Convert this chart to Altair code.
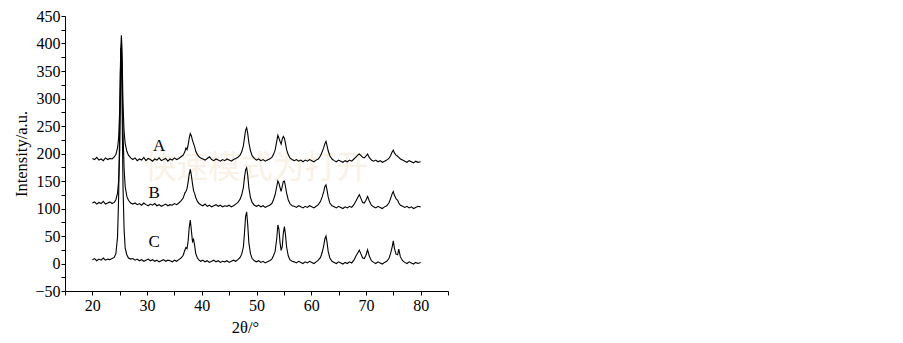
import altair as alt
import pandas as pd

# 2-theta positions (shared by all three patterns)
x_vals = [
    20.0, 20.4, 20.8, 21.2, 21.6, 22.0, 22.4, 22.8, 23.2, 23.6, 24.0,
    24.3, 24.6, 24.8, 25.0, 25.1, 25.2, 25.3, 25.4, 25.5, 25.6, 25.8, 26.0, 26.3, 26.6, 27.0,
    27.4, 27.8, 28.2, 28.6, 29.0, 29.4, 29.8, 30.2, 30.6, 31.0, 31.4, 31.8, 32.2, 32.6, 33.0, 33.4,
    33.8, 34.2, 34.6, 35.0, 35.4, 35.8, 36.2, 36.6,
    36.9, 37.1, 37.3, 37.5, 37.7, 37.9, 38.1, 38.3, 38.5, 38.7, 38.9, 39.2, 39.5,
    39.8, 40.2, 40.6, 41.0, 41.4, 41.8, 42.2, 42.6, 43.0, 43.4, 43.8, 44.2, 44.6, 45.0, 45.4, 45.8,
    46.2, 46.6, 47.0,
    47.3, 47.6, 47.8, 48.0, 48.2, 48.4, 48.6, 48.9, 49.2, 49.6,
    50.0, 50.4, 50.8, 51.2, 51.6, 52.0, 52.4, 52.8,
    53.1, 53.4, 53.7, 53.9, 54.1, 54.3, 54.5, 54.7, 54.9, 55.1, 55.3, 55.5, 55.8, 56.1, 56.5,
    56.9, 57.3, 57.7, 58.1, 58.5, 58.9, 59.3, 59.7, 60.1, 60.5, 60.9, 61.3, 61.7,
    62.0, 62.3, 62.5, 62.7, 62.9, 63.1, 63.4, 63.8,
    64.2, 64.6, 65.0, 65.4, 65.8, 66.2, 66.6, 67.0, 67.4, 67.8,
    68.2, 68.5, 68.8, 69.1, 69.4, 69.7, 70.0, 70.3, 70.6, 71.0,
    71.4, 71.8, 72.2, 72.6, 73.0, 73.4, 73.8, 74.2,
    74.5, 74.8, 75.0, 75.2, 75.5, 75.8, 76.0, 76.3, 76.7,
    77.1, 77.5, 77.9, 78.3, 78.7, 79.1, 79.5, 80.0,
]

a_vals = [
    191, 189, 193, 188, 190, 187, 192, 189, 191, 190, 194,
    198, 210, 228, 280, 330, 390, 415, 395, 345, 290, 240, 218, 204, 197, 192,
    189, 192, 187, 190, 188, 193, 187, 191, 189, 186, 190, 188, 192, 187, 189, 191,
    186, 190, 188, 192, 189, 191, 194, 197,
    203, 210, 207, 215, 228, 236, 232, 224, 218, 212, 204, 198, 194,
    192, 190, 188, 191, 194, 189, 187, 190, 188, 186, 189, 187, 190, 188, 186, 189,
    191, 193, 197,
    203, 214, 228, 242, 247, 236, 220, 205, 196, 191,
    188, 190, 187, 189, 186, 188, 190, 193,
    198, 206, 222, 233, 228, 222, 217, 226, 231, 228, 218, 207, 198, 192, 189,
    187, 189, 186, 188, 185, 188, 186, 189, 187, 185, 188, 190, 196,
    203, 211, 218, 222, 214, 205, 196, 190,
    187, 185, 188, 186, 184, 187, 185, 188, 186, 190,
    194, 197, 199, 196, 193, 192, 195, 199, 193, 188,
    186, 188, 185, 187, 184, 186, 188, 191,
    196, 203, 206, 201, 197, 195, 193, 190, 188,
    186, 184, 187, 185, 183, 186, 184, 185,
]

b_vals = [
    110, 112, 108, 111, 109, 113, 108, 110, 112, 109, 111,
    116, 128, 150, 205, 280, 350, 398, 372, 310, 240, 172, 140, 122, 115, 110,
    108, 110, 107, 109, 106, 110, 107, 105, 108, 106, 109, 105, 107, 104, 106, 108,
    105, 107, 106, 109, 107, 110, 114, 119,
    128, 131, 136, 148, 162, 171, 160, 145, 132, 127, 120, 113, 109,
    107, 105, 108, 104, 106, 103, 105, 107, 104, 106, 103, 105, 104, 106, 103, 105,
    108, 111, 117,
    125, 138, 156, 170, 174, 160, 138, 120, 111, 106,
    104, 106, 103, 105, 102, 104, 106, 109,
    116, 125, 140, 150, 146, 138, 131, 140, 149, 150, 140, 128, 116, 109, 105,
    104, 102, 105, 103, 101, 104, 102, 105, 103, 101, 104, 107, 113,
    121, 131, 140, 143, 133, 121, 110, 105,
    103, 101, 104, 102, 100, 103, 101, 104, 102, 107,
    114, 120, 125, 118, 111, 110, 115, 122, 114, 106,
    103, 101, 104, 102, 100, 103, 105, 110,
    118, 127, 131, 124, 118, 115, 110, 106, 104,
    102, 104, 101, 103, 100, 102, 104, 103,
]

c_vals = [
    7, 9, 5, 8, 6, 10, 6, 8, 7, 9, 11,
    18, 48, 120, 250, 345, 392, 385, 320, 225, 140, 62, 28, 16, 10, 8,
    9, 6, 8, 5, 7, 4, 6, 8, 5, 7, 4, 6, 3, 5, 7, 4,
    6, 5, 3, 6, 4, 7, 10, 15,
    24, 29, 27, 40, 65, 79, 60, 40, 44, 32, 18, 10, 6,
    4, 6, 3, 5, 2, 4, 6, 3, 5, 2, 4, 3, 5, 2, 4, 6,
    4, 7, 11,
    17, 30, 55, 85, 94, 70, 38, 18, 9, 5,
    3, 5, 2, 4, 1, 3, 5, 8,
    14, 22, 45, 70, 62, 38, 24, 30, 55, 67, 52, 30, 14, 7, 4,
    3, 1, 4, 2, 0, 3, 1, 4, 2, 0, 3, 6, 11,
    20, 33, 45, 50, 38, 22, 10, 4,
    2, 0, 3, 1, -1, 2, 0, 3, 1, 6,
    14, 19, 24, 17, 10, 9, 15, 25, 14, 5,
    2, 0, 3, 1, -1, 2, 4, 9,
    18, 30, 41, 28, 17, 16, 26, 12, 5,
    2, 0, 3, 1, -1, 2, 0, 2,
]

series_names = ["A", "B", "C"]
label_x = [32.2, 31.3, 31.3]
label_y = [213, 128, 40]

watermark_text = ["快速模式为打开"]
watermark_x = [50.0]
watermark_y = [174]

for ys in (a_vals, b_vals, c_vals):
    if len(ys) != len(x_vals):
        raise ValueError(f"length mismatch {len(ys)} vs {len(x_vals)}")

rows = []
for name, ys in zip(series_names, (a_vals, b_vals, c_vals)):
    for i, (xv, yv) in enumerate(zip(x_vals, ys)):
        rows.append({"x": xv, "y": yv, "s": name, "i": i})
df = pd.DataFrame(rows)
df_lab = pd.DataFrame({"x": label_x, "y": label_y, "t": series_names})
df_wm = pd.DataFrame({"x": watermark_x, "y": watermark_y, "t": watermark_text})

SERIF = "Liberation Serif"
xscale = alt.Scale(domain=[15, 85], nice=False, zero=False)
yscale = alt.Scale(domain=[-50, 450], nice=False, zero=False)

common_axis = dict(
    grid=False,
    domainColor="black",
    tickColor="black",
    labelColor="black",
    titleColor="black",
    labelFont=SERIF,
    titleFont=SERIF,
    labelFontSize=16,
    titleFontSize=16.5,
    titleFontWeight="normal",
    tickSize=4,
    domainWidth=1,
    tickWidth=1,
)

xaxis = alt.Axis(
    values=list(range(15, 86, 5)),
    labelExpr="datum.value % 10 == 0 ? datum.label : ''",
    title="2θ/°",
    titleX=180,
    titleY=41,
    titleAlign="center",
    titleBaseline="alphabetic",
    labelPadding=2,
    **common_axis,
)
yaxis = alt.Axis(
    values=list(range(-50, 451, 25)),
    labelExpr="datum.value % 50 == 0 ? datum.label : ''",
    title="Intensity/a.u.",
    titlePadding=5,
    labelPadding=1,
    **common_axis,
)

wm = alt.Chart(df_wm).mark_text(
    font="Noto Sans CJK SC", fontSize=32, color="#faf1e6"
).encode(
    x=alt.X("x:Q", scale=xscale, axis=xaxis),
    y=alt.Y("y:Q", scale=yscale, axis=yaxis),
    text="t:N",
)

lines = alt.Chart(df).mark_line(color="black", strokeWidth=1.1).encode(
    x=alt.X("x:Q", scale=xscale, axis=xaxis),
    y=alt.Y("y:Q", scale=yscale, axis=yaxis),
    detail="s:N",
    order="i:Q",
)

labels = alt.Chart(df_lab).mark_text(
    font=SERIF, fontSize=17, color="black"
).encode(
    x=alt.X("x:Q", scale=xscale, axis=xaxis),
    y=alt.Y("y:Q", scale=yscale, axis=yaxis),
    text="t:N",
)

chart = alt.layer(wm, lines, labels).properties(
    width=383,
    height=275,
    autosize=alt.AutoSizeParams(type="none"),
    padding={"left": 57, "top": 8, "right": 10, "bottom": 50},
).configure_view(stroke=None).configure_axis(**common_axis)

chart.save("out.html", embed_options={"renderer": "svg", "actions": False})
